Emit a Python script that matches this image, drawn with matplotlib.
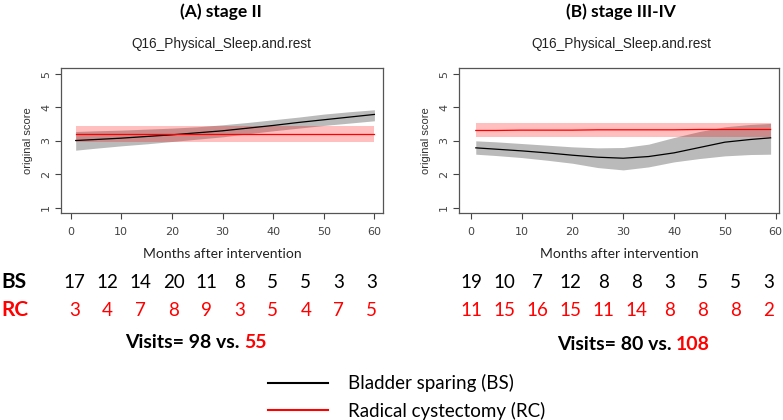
import numpy as np
import matplotlib
matplotlib.use("Agg")
import matplotlib.pyplot as plt
from matplotlib.lines import Line2D
import matplotlib.transforms as mtransforms

# panel A: stage II
months_a = [1, 5, 10, 15, 20, 25, 30, 35, 40, 45, 50, 55, 60]
bs_a = [3.01, 3.04, 3.08, 3.13, 3.18, 3.24, 3.30, 3.38, 3.46, 3.55, 3.63, 3.71, 3.79]
bs_lo_a = [2.72, 2.78, 2.85, 2.91, 2.98, 3.05, 3.12, 3.21, 3.30, 3.38, 3.46, 3.53, 3.60]
bs_hi_a = [3.28, 3.30, 3.32, 3.35, 3.38, 3.42, 3.48, 3.55, 3.63, 3.71, 3.80, 3.87, 3.93]
rc_a = [3.21] * 13
rc_lo_a = [2.97] * 13
rc_hi_a = [3.44] * 13

# panel B: stage III-IV
months_b = [1, 5, 10, 15, 20, 25, 30, 35, 40, 45, 50, 55, 59]
bs_b = [2.79, 2.75, 2.70, 2.64, 2.57, 2.51, 2.48, 2.53, 2.64, 2.80, 2.96, 3.04, 3.09]
bs_lo_b = [2.60, 2.56, 2.50, 2.42, 2.33, 2.20, 2.13, 2.22, 2.37, 2.47, 2.55, 2.59, 2.60]
bs_hi_b = [3.00, 2.97, 2.92, 2.87, 2.82, 2.79, 2.80, 2.90, 3.10, 3.28, 3.42, 3.49, 3.52]
rc_b = [3.31, 3.31, 3.32, 3.32, 3.32, 3.33, 3.33, 3.33, 3.33, 3.34, 3.34, 3.34, 3.34]
rc_lo_b = [3.11] * 13
rc_hi_b = [3.52] * 13

# numbers at risk under each panel
bs_n_a = [17, 12, 14, 20, 11, 8, 5, 5, 3, 3]
rc_n_a = [3, 4, 7, 8, 9, 3, 5, 4, 7, 5]
bs_n_b = [19, 10, 7, 12, 8, 8, 3, 5, 5, 3]
rc_n_b = [11, 15, 16, 15, 11, 14, 8, 8, 8, 2]
visits_a = (98, 55)
visits_b = (80, 108)

titles = ["(A) stage II", "(B) stage III-IV"]
subtitle = "Q16_Physical_Sleep.and.rest"

W, H = 783, 420
fig = plt.figure(figsize=(W / 100, H / 100), dpi=100)

BOLD = "Lato"
TXT = "Lato"
ARIAL = "Liberation Sans"


def px_axes(l, r, t, b):
    return fig.add_axes([l / W, 1 - b / H, (r - l) / W, (b - t) / H])


def draw_panel(ax, m, bs, lo, hi, rc, rlo, rhi, xlim):
    ax.fill_between(m, lo, hi, color="#bababa", lw=0)
    ax.fill_between(m, rlo, rhi, color="red", alpha=0.25, lw=0)
    ax.plot(m, bs, color="black", lw=0.9)
    ax.plot(m, rc, color="red", lw=0.9)
    ax.set_xlim(*xlim)
    ax.set_ylim(0.84, 5.18)
    ax.set_xticks([0, 10, 20, 30, 40, 50, 60])
    ax.set_yticks([1, 2, 3, 4, 5])
    ax.set_yticklabels(["1", "2", "3", "4", "5"], rotation=90, va="center")
    ax.tick_params(labelsize=8, colors="#444444", length=4, width=0.8, pad=3)
    ax.tick_params(axis="x", pad=6)
    for s in ax.spines.values():
        s.set_color("#555555")
        s.set_linewidth(0.9)
    ax.set_ylabel("original score", fontsize=8, family=ARIAL, color="#333333", labelpad=6)
    ax.set_xlabel("Months after intervention", fontsize=10, family=TXT, color="#222222", labelpad=8)


ax_a = px_axes(61, 383, 68, 213)
ax_b = px_axes(459, 779, 68, 213)
draw_panel(ax_a, months_a, bs_a, bs_lo_a, bs_hi_a, rc_a, rc_lo_a, rc_hi_a, (-1.9, 61.7))
draw_panel(ax_b, months_b, bs_b, bs_lo_b, bs_hi_b, rc_b, rc_lo_b, rc_hi_b, (-2.3, 60.65))

for ax, t, cx in [(ax_a, titles[0], 221 / W), (ax_b, titles[1], 621 / W)]:
    fig.text(cx, 1 - 12 / H, t, ha="center", va="center", fontsize=12.5, weight="bold", family=BOLD)
    fig.text(cx, 1 - 44 / H, subtitle, ha="center", va="center", fontsize=9.8, family=ARIAL, color="#222222")

# number rows
for ax, bsn, rcn, x0, x1 in [(ax_a, bs_n_a, rc_n_a, 0.8, 59.5), (ax_b, bs_n_b, rc_n_b, 0.2, 58.6)]:
    tr = mtransforms.blended_transform_factory(ax.transData, fig.transFigure)
    xs = np.linspace(x0, x1, len(bsn))
    for x, v in zip(xs, bsn):
        ax.text(x, 1 - 282 / H, str(v), transform=tr, ha="center", va="center",
                fontsize=13.5, family=TXT, color="black")
    for x, v in zip(xs, rcn):
        ax.text(x, 1 - 310 / H, str(v), transform=tr, ha="center", va="center",
                fontsize=13.5, family=TXT, color="red")

fig.text(1 / W, 1 - 282 / H, "BS", ha="left", va="center", fontsize=15, weight="bold", family=BOLD, color="black")
fig.text(1 / W, 1 - 310 / H, "RC", ha="left", va="center", fontsize=15, weight="bold", family=BOLD, color="red")


def visits(cx, y, a, b):
    fig.text(cx, 1 - y / H, "Visits= %d vs. " % a, ha="right", va="center",
             fontsize=14, weight="bold", family=BOLD, color="black")
    fig.text(cx, 1 - y / H, "%d" % b, ha="left", va="center",
             fontsize=14, weight="bold", family=BOLD, color="red")


visits(244 / W, 342, *visits_a)
visits(676 / W, 344, *visits_b)

handles = [Line2D([], [], color="black", lw=1.5), Line2D([], [], color="red", lw=1.5)]
fig.legend(handles, ["Bladder sparing (BS)", "Radical cystectomy (RC)"],
           loc="center left", bbox_to_anchor=(251 / W, 1 - 397 / H), frameon=False,
           prop={"family": TXT, "size": 13.5}, handlelength=3.2, handletextpad=1.1,
           labelspacing=0.5)

fig.savefig("out.png", dpi=100)
